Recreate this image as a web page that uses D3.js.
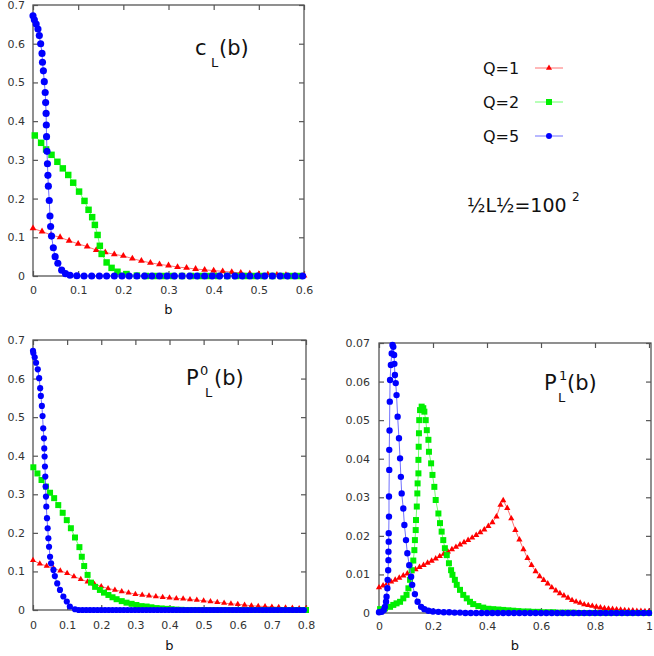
<!DOCTYPE html>
<html>
<head>
<meta charset="utf-8">
<script src="https://cdn.jsdelivr.net/npm/d3@7"></script>
<style>
  body { margin: 0; background: #fff; }
  svg { display: block; }
  .tick text { font-family: "DejaVu Sans", sans-serif; font-size: 11px; fill: #333; }
  .tick line { stroke: #555; stroke-width: 1.2; }
  .lbl { font-family: "DejaVu Sans", sans-serif; fill: #111; }
</style>
</head>
<body>
<div id="chart"></div>
<script>
// ---- data: [b, value] ----
// c_L(b)
const cQ1 = [[0,.123],[.02,.115],[.04,.106],[.06,.100],[.08,.091],[.10,.083],[.12,.076],[.14,.067],[.16,.061],[.18,.056],[.20,.052],[.22,.045],[.24,.039],[.26,.034],[.28,.030],[.30,.027],[.32,.023],[.34,.021],[.36,.018],[.38,.016],[.40,.014],[.42,.012],[.44,.010],[.46,.008],[.48,.006],[.50,.005],[.52,.004],[.54,.003],[.56,.002],[.58,.001],[.60,.001]];
const cQ2 = [[.004,.363],[.018,.344],[.029,.327],[.041,.313],[.054,.295],[.066,.278],[.078,.261],[.089,.241],[.102,.218],[.114,.194],[.123,.171],[.131,.152],[.137,.132],[.143,.106],[.148,.078],[.152,.057],[.163,.035],[.174,.021],[.187,.011],[.207,.005],[.23,.001],[.25,0],[.27,0],[.29,0],[.31,0],[.33,0],[.35,0],[.37,0],[.39,0],[.41,0],[.43,0],[.45,0],[.47,0],[.49,0],[.51,0],[.53,0],[.55,0],[.57,0],[.59,0]];
const cQ5 = [[0,.672],[.003,.662],[.007,.651],[.011,.638],[.014,.621],[.017,.600],[.020,.575],[.021,.552],[.023,.530],[.025,.502],[.027,.474],[.028,.448],[.029,.420],[.0295,.390],[.030,.360],[.031,.322],[.032,.290],[.033,.260],[.034,.232],[.036,.195],[.0376,.155],[.039,.128],[.041,.103],[.045,.073],[.049,.050],[.055,.033],[.0635,.015],[.072,.006],[.082,.002],[.097,.0005],[.113,0],[.130,0],[.147,0],[.163,0],[.180,0],[.197,0],[.213,0],[.230,0],[.247,0],[.263,0],[.280,0],[.297,0],[.313,0],[.330,0],[.347,0],[.363,0],[.380,0],[.397,0],[.413,0],[.430,0],[.447,0],[.463,0],[.480,0],[.497,0],[.513,0],[.530,0],[.547,0],[.563,0],[.580,0],[.597,0]];

// P^0_L(b)
const pQ1 = [[0,.129],[.02,.120],[.04,.114],[.06,.108],[.08,.102],[.10,.095],[.12,.087],[.14,.080],[.16,.073],[.18,.067],[.20,.061],[.22,.056],[.24,.052],[.26,.048],[.28,.045],[.30,.041],[.32,.039],[.34,.037],[.36,.035],[.38,.033],[.40,.032],[.42,.030],[.44,.029],[.46,.027],[.48,.026],[.50,.024],[.52,.022],[.54,.020],[.56,.018],[.58,.016],[.60,.015],[.62,.013],[.64,.011],[.66,.010],[.68,.009],[.70,.008],[.72,.007],[.74,.006],[.76,.005],[.78,.004],[.80,.004]];
const pQ2 = [[.001,.370],[.013,.354],[.025,.337],[.038,.320],[.050,.304],[.062,.290],[.074,.272],[.087,.252],[.099,.233],[.111,.212],[.123,.188],[.136,.163],[.143,.138],[.150,.114],[.160,.091],[.170,.071],[.182,.060],[.196,.052],[.208,.045],[.221,.039],[.233,.033],[.245,.028],[.260,.023],[.274,.019],[.289,.016],[.303,.013],[.318,.010],[.333,.009],[.347,.007],[.362,.005],[.377,.004],[.391,.003],[.406,.002],[.420,.001],[.435,.0005],[.449,0],[.464,0],[.479,0],[.493,0],[.508,0],[.522,0],[.537,0],[.552,0],[.566,0],[.581,0],[.595,0],[.610,0],[.625,0],[.639,0],[.654,0],[.668,0],[.683,0],[.698,0],[.712,0],[.727,0],[.741,0],[.756,0],[.771,0],[.785,0],[.800,0]];
const pQ5 = [[0,.672],[.001,.666],[.005,.655],[.009,.641],[.014,.624],[.018,.601],[.021,.575],[.023,.555],[.026,.529],[.028,.503],[.030,.471],[.032,.445],[.033,.419],[.034,.398],[.035,.372],[.036,.346],[.037,.320],[.038,.294],[.039,.268],[.041,.238],[.043,.212],[.045,.186],[.047,.164],[.050,.138],[.053,.121],[.060,.104],[.064,.088],[.071,.069],[.079,.052],[.089,.035],[.099,.022],[.108,.009],[.123,.002],[.134,0],[.145,0],[.156,0],[.167,0],[.178,0],[.189,0],[.200,0],[.211,0],[.222,0],[.233,0],[.244,0],[.255,0],[.266,0],[.277,0],[.288,0],[.299,0],[.310,0],[.321,0],[.332,0],[.343,0],[.354,0],[.365,0],[.376,0],[.387,0],[.398,0],[.409,0],[.420,0],[.431,0],[.442,0],[.453,0],[.464,0],[.475,0],[.486,0],[.497,0],[.508,0],[.519,0],[.530,0],[.541,0],[.552,0],[.563,0],[.574,0],[.585,0],[.596,0],[.607,0],[.618,0],[.629,0],[.640,0],[.651,0],[.662,0],[.673,0],[.684,0],[.695,0],[.706,0],[.717,0],[.728,0],[.739,0],[.750,0],[.761,0],[.772,0],[.783,0],[.794,0]];

// P^1_L(b)
const rQ1 = [[0,.0066],[.015,.0071],[.03,.0076],[.045,.0081],[.06,.0086],[.075,.0091],[.09,.0097],[.105,.0102],[.12,.0108],[.135,.0113],[.15,.0119],[.165,.0124],[.18,.0130],[.195,.0135],[.21,.0141],[.225,.0147],[.24,.0153],[.255,.0159],[.27,.0165],[.285,.0171],[.30,.0177],[.315,.0183],[.33,.0189],[.345,.0195],[.36,.0202],[.375,.0209],[.39,.0216],[.405,.0225],[.42,.0235],[.435,.0250],[.45,.0280],[.46,.0292],[.475,.0272],[.49,.0245],[.505,.0215],[.52,.0190],[.535,.0165],[.55,.0142],[.565,.0124],[.58,.0108],[.595,.0095],[.61,.0085],[.625,.0076],[.64,.0066],[.655,.0058],[.67,.0051],[.685,.0045],[.70,.0039],[.715,.0033],[.73,.0029],[.745,.0026],[.76,.0022],[.775,.0020],[.79,.0018],[.805,.0016],[.82,.0014],[.835,.0012],[.85,.0011],[.865,.0010],[.88,.0009],[.895,.0008],[.91,.0007],[.925,.0006],[.94,.0006],[.955,.0005],[.97,.0005],[.985,.0004],[1.0,.0004]];
const rQ2 = [[.004,.0010],[.022,.0012],[.041,.0016],[.053,.0021],[.065,.0025],[.078,.0029],[.090,.0038],[.102,.0047],[.109,.0064],[.115,.0086],[.121,.0111],[.127,.0136],[.131,.0163],[.133,.0189],[.136,.0215],[.137,.0241],[.140,.0276],[.142,.0310],[.143,.0336],[.146,.0362],[.146,.0397],[.147,.0431],[.148,.0466],[.149,.0500],[.152,.0526],[.158,.0535],[.164,.0531],[.168,.0522],[.173,.0500],[.177,.0474],[.183,.0449],[.185,.0418],[.193,.0388],[.198,.0358],[.205,.0327],[.210,.0293],[.220,.0258],[.226,.0233],[.232,.0211],[.238,.0189],[.244,.0168],[.251,.0150],[.259,.0129],[.267,.0111],[.272,.0099],[.281,.0086],[.288,.0073],[.300,.0060],[.312,.0047],[.325,.0038],[.337,.0029],[.349,.0023],[.368,.0018],[.386,.0014],[.405,.0011],[.423,.0010],[.442,.0009],[.460,.0008],[.479,.0007],[.497,.0006],[.516,.0005],[.534,.0004],[.553,.0004],[.571,.0003],[.590,.0003],[.608,.0002],[.627,.0002],[.645,.0002],[.664,.0001],[.682,.0001],[.700,.0001],[.720,.0001],[.738,0],[.757,0],[.775,0],[.794,0],[.812,0],[.830,0],[.850,0],[.868,0],[.886,0],[.905,0],[.923,0],[.942,0],[.960,0],[.980,0],[1.0,0]];
const rQ5 = [[0,.0002],[.01,.0003],[.018,.0008],[.022,.0016],[.026,.0029],[.028,.0042],[.031,.0064],[.032,.0086],[.034,.0111],[.035,.0137],[.035,.0159],[.036,.0185],[.036,.0207],[.037,.0250],[.037,.0302],[.038,.0371],[.038,.0423],[.039,.0473],[.040,.0548],[.041,.0604],[.044,.0643],[.047,.0673],[.050,.0695],[.053,.0690],[.056,.0669],[.057,.0646],[.059,.0617],[.062,.0596],[.065,.0565],[.069,.0509],[.074,.0453],[.078,.0401],[.081,.0353],[.084,.0310],[.090,.0271],[.094,.0228],[.100,.0189],[.105,.0155],[.112,.0124],[.119,.0094],[.123,.0073],[.133,.0049],[.143,.0029],[.156,.0016],[.168,.0010],[.183,.0006],[.20,.0004],[.22,.0003],[.24,.0002],[.26,.0002],[.28,.0001],[.30,.0001],[.32,0],[.34,0],[.36,0],[.38,0],[.40,0],[.42,0],[.44,0],[.46,0],[.48,0],[.50,0],[.52,0],[.54,0],[.56,0],[.58,0],[.60,0],[.62,0],[.64,0],[.66,0],[.68,0],[.70,0],[.72,0],[.74,0],[.76,0],[.78,0],[.80,0],[.82,0],[.84,0],[.86,0],[.88,0],[.90,0],[.92,0],[.94,0],[.96,0],[.98,0],[1.0,0]];

const seriesNames = ["Q=1", "Q=2", "Q=5"];
const cXTicks = [0, .1, .2, .3, .4, .5, .6];
const pXTicks = [0, .1, .2, .3, .4, .5, .6, .7, .8];
const rXTicks = [0, .2, .4, .6, .8, 1];
const yTicksBig = [0, .1, .2, .3, .4, .5, .6, .7];
const yTicksSmall = [0, .01, .02, .03, .04, .05, .06, .07];

// marker styles per series
const styles = [
  { color: "#ff0000", line: "#ff7070", shape: d3.symbolTriangle },
  { color: "#00ee00", line: "#70ff70", shape: d3.symbolSquare },
  { color: "#0000ff", line: "#7070ff", shape: d3.symbolCircle }
];

const svg = d3.select("#chart").append("svg")
  .attr("width", 654).attr("height", 656);

const fmt = d => d === 0 ? "0" : (d === 1 ? "1" : String(+d.toFixed(2)));

function drawPanel(p) {
  const x = d3.scaleLinear().domain(p.xDomain).range([p.left, p.xEnd]);
  const y = d3.scaleLinear().domain(p.yDomain).range([p.bottom, p.top]);
  const g = svg.append("g");

  // ticks pointing inward on all four sides, gnuplot style
  g.append("g").attr("transform", `translate(${p.left},0)`)
    .call(d3.axisLeft(y).tickValues(p.yTicks).tickSize(-5).tickPadding(p.yPad).tickFormat(fmt))
    .call(a => a.select(".domain").remove());
  g.append("g").attr("transform", `translate(${p.right},0)`)
    .call(d3.axisRight(y).tickValues(p.yTicks).tickSize(-5).tickFormat(""))
    .call(a => a.select(".domain").remove());
  g.append("g").attr("transform", `translate(0,${p.bottom})`)
    .call(d3.axisBottom(x).tickValues(p.xTicks).tickSize(-5).tickPadding(p.xPad).tickFormat(fmt))
    .call(a => a.select(".domain").remove());
  g.append("g").attr("transform", `translate(0,${p.top})`)
    .call(d3.axisTop(x).tickValues(p.xTicks).tickSize(-5).tickFormat(""))
    .call(a => a.select(".domain").remove());

  g.append("rect")
    .attr("x", p.left).attr("y", p.top)
    .attr("width", p.right - p.left).attr("height", p.bottom - p.top)
    .attr("fill", "none").attr("stroke", "#555").attr("stroke-width", 1.3);

  const line = d3.line().x(d => x(d[0])).y(d => y(d[1]));

  p.series.forEach((s, i) => {
    const st = styles[i];
    g.append("path").datum(s)
      .attr("d", line)
      .attr("fill", "none")
      .attr("stroke", st.line)
      .attr("stroke-width", 1);
    g.selectAll(null).data(s).enter().append("path")
      .attr("transform", d => `translate(${x(d[0])},${y(d[1])})`)
      .attr("d", d3.symbol().type(st.shape).size(p.sizes[i]))
      .attr("fill", st.color);
  });

  g.append("text").attr("class", "lbl")
    .attr("x", (p.left + p.right) / 2).attr("y", p.bLabelY)
    .attr("text-anchor", "middle").style("font-size", "13px").text("b");
}

drawPanel({
  xDomain: [0, .6], yDomain: [0, .7], left: 33, xEnd: 304, right: 304, top: 5, bottom: 276,
  xTicks: cXTicks, yTicks: yTicksBig, yPad: 8, xPad: 10, bLabelY: 314,
  series: [cQ1, cQ2, cQ5], sizes: [20, 42, 40]
});
drawPanel({
  xDomain: [0, .8], yDomain: [0, .7], left: 33, xEnd: 306, right: 306, top: 340, bottom: 610,
  xTicks: pXTicks, yTicks: yTicksBig, yPad: 8, xPad: 11, bLabelY: 650,
  series: [pQ1, pQ2, pQ5], sizes: [16, 36, 30]
});
drawPanel({
  xDomain: [0, 1], yDomain: [0, .07], left: 379, xEnd: 649, right: 651, top: 343, bottom: 613,
  xTicks: rXTicks, yTicks: yTicksSmall, yPad: 9, xPad: 9, bLabelY: 650,
  series: [rQ1, rQ2, rQ5], sizes: [17, 36, 32]
});

// panel titles: main letter, optional superscript, subscript, "(b)"
function title(t) {
  const g = svg.append("g").attr("class", "lbl");
  g.append("text").attr("x", t.x).attr("y", t.base).style("font-size", "21px").text(t.main);
  if (t.sup) g.append("text").attr("x", t.supX).attr("y", t.base - 10).style("font-size", "13px").text(t.sup);
  g.append("text").attr("x", t.subX).attr("y", t.base + 12).style("font-size", "13px").text("L");
  g.append("text").attr("x", t.bX).attr("y", t.base).style("font-size", "21px").text("(b)");
}
title({ x: 195, base: 55, main: "c", subX: 211, bX: 219 });
title({ x: 186, base: 385, main: "P", sup: "0", supX: 200, subX: 205, bX: 214 });
title({ x: 544, base: 390, main: "P", sup: "1", supX: 559, subX: 558, bX: 567 });

// legend
const legY = [68, 102, 136];
seriesNames.forEach((n, i) => {
  const st = styles[i];
  svg.append("text").attr("class", "lbl")
    .attr("x", 483).attr("y", legY[i] + 6).style("font-size", "16px").text(n);
  svg.append("line")
    .attr("x1", 535).attr("x2", 563).attr("y1", legY[i]).attr("y2", legY[i])
    .attr("stroke", st.line).attr("stroke-width", 1);
  svg.append("path")
    .attr("transform", `translate(549,${legY[i]})`)
    .attr("d", d3.symbol().type(st.shape).size([16, 36, 28][i]))
    .attr("fill", st.color);
});

svg.append("text").attr("class", "lbl")
  .attr("x", 467).attr("y", 212).style("font-size", "19px").text("½L½=100");
svg.append("text").attr("class", "lbl")
  .attr("x", 572).attr("y", 201).style("font-size", "12px").text("2");
</script>
</body>
</html>
